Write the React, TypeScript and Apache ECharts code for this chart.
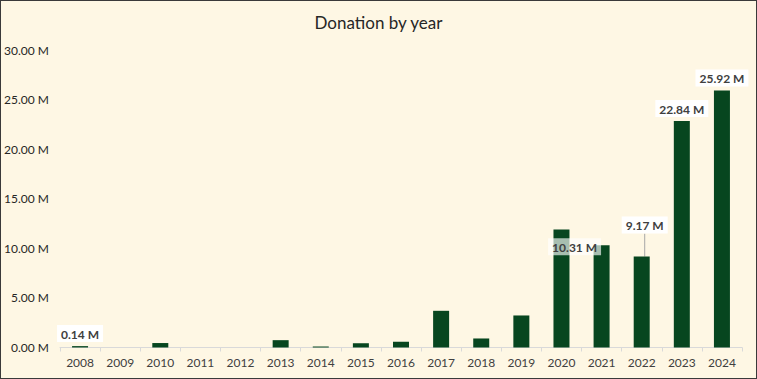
import React, { useEffect, useRef } from "react";
import * as echarts from "echarts";

const years = ["2008","2009","2010","2011","2012","2013","2014","2015","2016","2017","2018","2019","2020","2021","2022","2023","2024"];
const donationsM = [0.14, 0, 0.45, 0, 0, 0.74, 0.1, 0.43, 0.58, 3.7, 0.91, 3.23, 11.9, 10.31, 9.17, 22.84, 25.92];
const labeledYears = ["2008", "2021", "2022", "2023", "2024"];
const yTicks = [0, 5, 10, 15, 20, 25, 30];

const fmt = (v: number) => v.toFixed(2) + " M";

export default function App() {
  const ref = useRef<HTMLDivElement>(null);
  useEffect(() => {
    document.body.style.margin = "0";
    const chart = echarts.init(ref.current!, undefined, { renderer: "svg" });
    const labelBase = {
      show: true,
      position: "top",
      distance: 4,
      formatter: (p: any) => fmt(p.value),
      fontFamily: "Lato",
      fontWeight: "bold",
      fontSize: 12,
      color: "#404040",
      backgroundColor: "#ffffff",
      padding: [3, 4, 2, 4],
    };
    const data = donationsM.map((v, i) => {
      const y = years[i];
      if (!labeledYears.includes(y)) return { value: v, label: { show: false }, labelLine: { show: false } };
      if (y === "2021") {
        return {
          value: v,
          label: { ...labelBase, backgroundColor: "rgba(255,255,255,0.65)" },
          labelLine: { show: false },
        };
      }
      if (y === "2022") {
        return {
          value: v,
          label: { ...labelBase },
          labelLine: { show: true, lineStyle: { color: "#a6a6a6", width: 1 } },
        };
      }
      return { value: v, label: { ...labelBase }, labelLine: { show: false } };
    });
    chart.setOption({
      animation: false,
      backgroundColor: "transparent",
      textStyle: { fontFamily: "Lato" },
      title: {
        text: "Donation by year",
        left: "center",
        top: 9,
        textStyle: { fontFamily: "Lato", fontSize: 17, fontWeight: "normal", color: "#262626" },
      },
      grid: { left: 60, right: 15, top: 50, bottom: 31.5, containLabel: false },
      xAxis: {
        type: "category",
        data: years,
        axisLine: { show: true, lineStyle: { color: "#d9d9d9", width: 1 } },
        axisTick: { show: true, length: 4, lineStyle: { color: "#d9d9d9" } },
        axisLabel: { fontFamily: "Lato", fontSize: 12, color: "#404040", margin: 9 },
      },
      yAxis: {
        type: "value",
        min: yTicks[0],
        max: yTicks[yTicks.length - 1],
        interval: 5,
        axisLine: { show: false },
        axisTick: { show: false },
        splitLine: { show: false },
        axisLabel: {
          fontFamily: "Lato",
          fontSize: 12,
          color: "#262626",
          margin: 11,
          formatter: (v: number) => fmt(v),
        },
      },
      series: [
        {
          type: "bar",
          data,
          barWidth: 16,
          itemStyle: { color: "#07461f" },
          labelLine: { show: false, lineStyle: { color: "#a6a6a6", width: 1 } },
          labelLayout: (p: any) => {
            if (p.dataIndex === 13) return { dx: -27, dy: 14 };
            if (p.dataIndex === 14) return { dx: 3, dy: -19 };
            return {};
          },
        },
      ],
    });
    return () => chart.dispose();
  }, []);
  return (
    <div
      style={{
        position: "absolute",
        left: 0,
        top: 0,
        width: 757,
        height: 379,
        boxSizing: "border-box",
        border: "1px solid #3a3a3a",
        background: "#fef7e4",
      }}
    >
      <div ref={ref} style={{ position: "absolute", left: -1, top: -1, width: 757, height: 379 }} />
    </div>
  );
}
